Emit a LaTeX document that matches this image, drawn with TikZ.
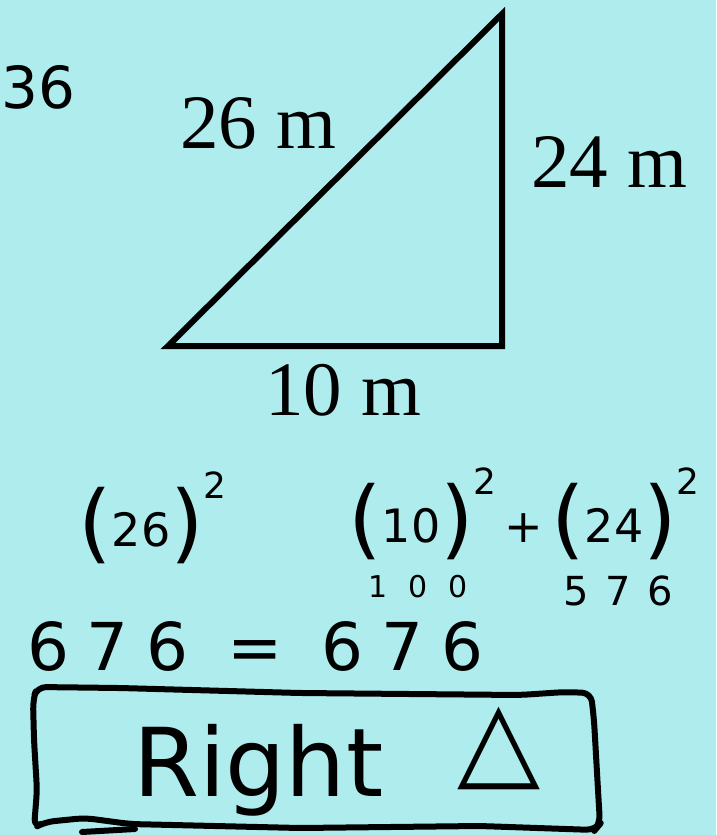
\documentclass[tikz,border=0pt]{standalone}
\usepackage{fontspec}
\setmainfont{Liberation Serif}
\newfontfamily\handfont{DejaVu Sans}
\definecolor{paperblue}{HTML}{AEECEE}
\definecolor{inkblack}{HTML}{000000}
% Big handwritten brackets and the little squared marks.
\newcommand{\hpar}[1]{{\fontsize{86pt}{86pt}\selectfont\raisebox{-6pt}{#1}}}
\newcommand{\hsq}{\raisebox{48pt}{\fontsize{36pt}{36pt}\selectfont 2}}
\newcommand{\htri}{\raisebox{20pt}{\fontsize{108pt}{108pt}\selectfont △}}
\tikzset{
  paper/.style={
    fill=paperblue,
  },
  side/.style={
    draw=inkblack,
    line width=6pt,
    line join=miter,
  },
  side label/.style={
    anchor=base west,
    inner sep=0pt,
    text=inkblack,
    font=\fontsize{77pt}{80pt}\selectfont,
  },
  ink/.style={
    draw=inkblack,
    line width=6pt,
    line cap=round,
    line join=round,
  },
  scrawl/.style={
    anchor=base west,
    inner sep=0pt,
    text=inkblack,
  },
}
\begin{document}
\begin{tikzpicture}[x=1pt,y=-1pt]
  % Page and its colour.
  \useasboundingbox (0,0) rectangle (716,835);
  \fill[paper] (0,0) rectangle (716,835);

  % The right triangle.
  \coordinate (A) at (168,346);
  \coordinate (B) at (502,346);
  \coordinate (C) at (502,14);
  \draw[side] (A) -- (B) -- (C) -- cycle;

  % Side lengths.
  \node[side label] (hyp) at (180,148) {26 m};
  \node[side label] (leg) at (531,187) {24 m};
  \node[side label] (base) at (265,415) {10 m};

  % Handwritten working.
  \node[scrawl, font=\handfont\fontsize{58pt}{58pt}\selectfont] (note) at (1,108) {36};
  \node[scrawl, font=\handfont\fontsize{46pt}{46pt}\selectfont] (lhs) at (78,546)
    {\hpar{(}26\hpar{)}\hsq};
  \node[scrawl, font=\handfont\fontsize{46pt}{46pt}\selectfont] (rhs) at (348,542)
    {\hpar{(}10\hpar{)}\hsq\hspace{8pt}+\hspace{8pt}\hpar{(}24\hpar{)}\hsq};
  \node[scrawl, font={\handfont\fontsize{30pt}{30pt}\selectfont\addfontfeatures{LetterSpace=70}}] (tensq) at (368,597) {100};
  \node[scrawl, font={\handfont\fontsize{40pt}{40pt}\selectfont\addfontfeatures{LetterSpace=42}}] (legsq) at (563,605) {576};
  \node[scrawl, font={\handfont\fontsize{66pt}{66pt}\selectfont\addfontfeatures{LetterSpace=27}}] (check) at (27,670) {676 = 676};

  % Boxed conclusion.
  \node[scrawl, font=\handfont\fontsize{95pt}{95pt}\selectfont] (verdict) at (133,796) {Right\hspace{74pt}\htri};
  \draw[ink, rounded corners=9pt] (34,828) -- (37,790) -- (34,740) -- (33,700) -- (37,687)
    -- (120,688) -- (300,693) -- (520,695) -- (565,692) -- (591,693)
    -- (594,720) -- (598,790) -- (600,824) -- (595,830)
    -- (480,826) -- (300,828) -- (130,824) -- (85,818) -- (45,822) -- cycle;
  \draw[ink] (82,832) -- (135,829);
\end{tikzpicture}
\end{document}
